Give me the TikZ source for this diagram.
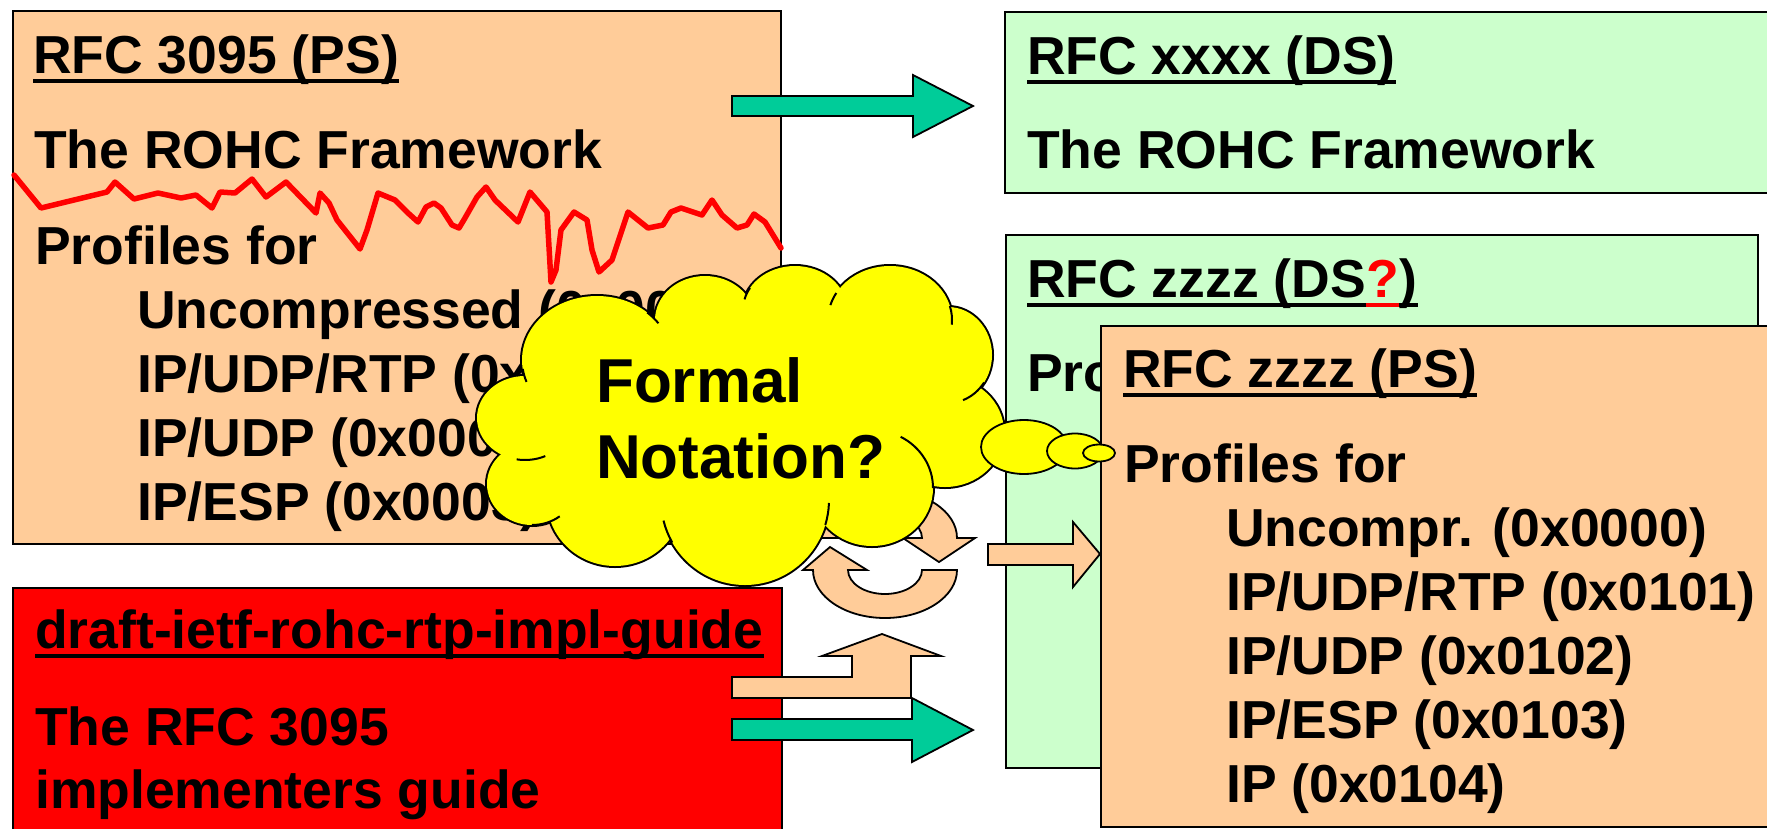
\documentclass[tikz,border=0pt]{standalone}
\usepackage{fontspec}
\setmainfont{Liberation Sans}
\usetikzlibrary{calc}
\definecolor{peach}{HTML}{FFCC99}
\definecolor{mint}{HTML}{CCFFCC}
\definecolor{teal}{HTML}{00CC99}
\definecolor{cloudyellow}{HTML}{FFFF00}
\definecolor{alertred}{HTML}{FF0000}
% underline under a text node, along its baseline
\newcommand\titlerule[2][black]{\draw[#1,line width=4.5pt] ($(#2.base west)+(0,8)$) -- ($(#2.base east)+(0,8)$);}
\begin{document}
\begin{tikzpicture}[x=1pt,y=-1pt,
  docbox/.style={draw=black,line width=2pt,inner sep=0pt,anchor=north west},
  txt/.style={anchor=base west,inner sep=0pt,font=\fontsize{53.5}{64}\selectfont\bfseries},
  bigtxt/.style={anchor=base west,inner sep=0pt,font=\fontsize{62}{74}\selectfont\bfseries},
  blockarrow/.style={draw=black,line width=1.8pt,line join=miter},
  bubble/.style={draw=black,line width=1.8pt,fill=cloudyellow}]
\useasboundingbox (0,0) rectangle (1767,828);
\clip (0,0) rectangle (1767,828);

% ---- documents -------------------------------------------------------
\node[docbox,fill=peach,minimum width=768pt,minimum height=533pt] (rfcps) at (12,10) {};
\node[txt] (t1) at (33,73) {RFC 3095 (PS)};
\titlerule{t1}
\node[txt] (t1b) at (34,168) {The ROHC Framework};
\node[txt] (t1c) at (35,264) {Profiles for};
\node[txt] (t1d) at (137,328) {Uncompressed (0x0000)};
\node[txt] (t1e) at (137,392) {IP/UDP/RTP (0x0001)};
\node[txt] (t1f) at (137,456) {IP/UDP (0x0002)};
\node[txt] (t1g) at (137,520) {IP/ESP (0x0003)};

\node[docbox,fill=mint,minimum width=790pt,minimum height=181pt] (rfcds) at (1004,11) {};
\node[txt] (t2) at (1027,74) {RFC xxxx (DS)};
\titlerule{t2}
\node[txt] (t2b) at (1027,168) {The ROHC Framework};

\node[docbox,fill=mint,minimum width=752pt,minimum height=533pt] (zzds) at (1005,234) {};
\node[txt] (t3a) at (1027,297) {RFC zzzz (DS};
\node[txt,text=alertred] (t3q) at (t3a.base east) {?};
\node[txt] (t3c) at (t3q.base east) {)};
\draw[line width=4.5pt] ($(t3a.base west)+(0,8)$) -- ($(t3c.base east)+(0,8)$);
\titlerule[alertred]{t3q}
\node[txt] (t3b) at (1027,391) {Profiles for};

\node[docbox,fill=alertred,minimum width=769pt,minimum height=260pt] (draft) at (12,587) {};
\node[txt] (t5) at (35,648) {draft-ietf-rohc-rtp-impl-guide};
\titlerule{t5}
\node[txt] (t5b) at (35,745) {The RFC 3095};
\node[txt] (t5c) at (35,808) {implementers guide};

% ---- block arrows ----------------------------------------------------
\draw[blockarrow,fill=teal] (732,96) -- (913,96) -- (913,75) -- (973,106) -- (913,137) -- (913,116) -- (732,116) -- cycle;
\draw[blockarrow,fill=teal] (732,719) -- (912,719) -- (912,698) -- (973,730) -- (912,762) -- (912,740) -- (732,740) -- cycle;
\draw[blockarrow,fill=peach] (988,544) -- (1073,544) -- (1073,522) -- (1100,554) -- (1073,587) -- (1073,565) -- (988,565) -- cycle;
\draw[blockarrow,fill=peach] (732,677) -- (852,677) -- (852,656) -- (822,656) -- (882,634) -- (941,656) -- (911,656) -- (911,698) -- (732,698) -- cycle;

% circular arrows
\draw[blockarrow,fill=peach] (813,538) arc[start angle=180,end angle=360,x radius=72,y radius=48]
  -- (975,538) -- (939,562) -- (903,538) -- (922,538)
  arc[start angle=360,end angle=180,x radius=37,y radius=24] -- cycle;
\draw[blockarrow,fill=peach] (957,570) arc[start angle=0,end angle=180,x radius=72,y radius=48]
  -- (803,570) -- (830,547) -- (867,570) -- (848,570)
  arc[start angle=180,end angle=0,x radius=37,y radius=24] -- cycle;

% ---- thought cloud ---------------------------------------------------
% puffs: centre x / centre y / x radius / y radius
\def\puffs{525/418/48/42, 532/484/45/41, 615/500/68/66, 745/500/84/85, 872/488/61/58,
  945/432/59/55, 948/355/44/48, 890/320/62/54, 795/310/52/44, 705/320/50/44, 597/360/75/64}
\foreach \cx/\cy/\rx/\ry in \puffs
  \draw[line width=4pt] (\cx,\cy) ellipse[x radius=\rx,y radius=\ry];
\foreach \cx/\cy/\rx/\ry in \puffs
  \fill[cloudyellow] (\cx,\cy) ellipse[x radius=\rx,y radius=\ry];
\fill[cloudyellow] (525,418) -- (597,360) -- (705,320) -- (795,310) -- (890,320) -- (948,355)
  -- (945,432) -- (872,488) -- (745,500) -- (615,500) -- (532,484) -- cycle;
% short inner creases where the puffs meet
\foreach \cx/\cy/\rx/\ry/\a/\b in {525/418/48/42/100/65, 532/484/45/41/90/52,
  745/500/84/85/150/166, 745/500/84/85/17/2, 872/488/61/58/-62/0, 948/355/44/48/35/70,
  890/320/62/54/-15/5, 890/320/62/54/-150/-164, 795/310/52/44/-150/-166,
  597/360/75/64/-48/-35, 597/360/75/64/160/172}
  \draw[line width=2pt] ($(\cx,\cy)+({\rx*cos(\a)},{\ry*sin(\a)})$)
    arc[start angle=\a,end angle=\b,x radius=\rx,y radius=\ry];
\node[bigtxt] (formal) at (596,402) {Formal};
\node[bigtxt] (notation) at (596,478) {Notation?};

% ---- profile document ------------------------------------------------
\node[docbox,fill=peach,minimum width=700pt,minimum height=501pt] (zzps) at (1100,325) {};
\node[txt] (t4) at (1123,387) {RFC zzzz (PS)};
\titlerule{t4}
\node[txt] (t4b) at (1124,482) {Profiles for};
\node[txt] (t4c) at (1226,546) {Uncompr. (0x0000)};
\node[txt] (t4d) at (1226,610) {IP/UDP/RTP (0x0101)};
\node[txt] (t4e) at (1226,674) {IP/UDP (0x0102)};
\node[txt] (t4f) at (1226,738) {IP/ESP (0x0103)};
\node[txt] (t4g) at (1226,802) {IP (0x0104)};

% thought bubbles
\draw[bubble] (1024,447) ellipse[x radius=43,y radius=27];
\draw[bubble] (1075,451) ellipse[x radius=28,y radius=17.5];
\draw[bubble] (1099,453) ellipse[x radius=16,y radius=8.5];

% ---- strike-through scribble ----------------------------------------
\draw[alertred,line width=5.5pt,line join=round,line cap=round] plot coordinates {
 (14,175) (41,208) (107,192) (115,182) (134,199) (158,193) (181,198) (196,195) (212,208)
 (220,192) (235,193) (252,179) (266,197) (286,182) (316,213) (320,193) (329,203) (337,220)
 (360,249) (367,230) (378,193) (395,200) (408,213) (418,222) (426,207) (434,203) (441,208)
 (452,225) (459,228) (465,218) (477,197) (486,187) (495,200) (518,222) (530,192) (547,212)
 (551,282) (556,270) (561,230) (574,212) (587,220) (592,250) (599,272) (612,260) (628,212)
 (648,228) (663,225) (671,212) (681,208) (702,215) (712,200) (722,215) (737,228) (747,225)
 (754,214) (765,222) (781,248)};
\end{tikzpicture}
\end{document}
